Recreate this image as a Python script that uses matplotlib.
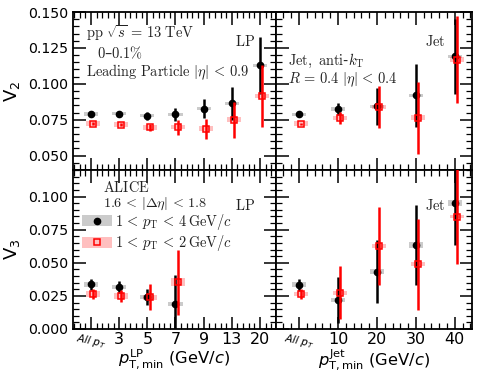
import matplotlib
matplotlib.use("Agg")
import matplotlib.pyplot as plt
from matplotlib.ticker import FixedLocator, MultipleLocator, FormatStrFormatter, NullFormatter
from matplotlib.patches import Rectangle

plt.rcParams['mathtext.fontset'] = 'cm'

# ---------------- data ----------------
lp_pos = [1, 2, 3, 4, 5, 6, 7]
lp_labels = ['All', '3', '5', '7', '9', '13', '20']
jet_pos = [0, 10, 20, 30, 40]
jet_labels = ['All', '10', '20', '30', '40']

v2_lp_b = [0.0789, 0.0792, 0.0778, 0.0787, 0.0827, 0.0864, 0.1129]
v2_lp_b_err = [0.0010, 0.0010, 0.0027, 0.0045, 0.0064, 0.0114, 0.0198]
v2_lp_b_sys = [0.0012, 0.0012, 0.0012, 0.0012, 0.0012, 0.0012, 0.0012]
v2_lp_r = [0.0722, 0.0715, 0.0696, 0.0698, 0.0687, 0.0750, 0.0915]
v2_lp_r_err = [0.0010, 0.0012, 0.0022, 0.0052, 0.0070, 0.0125, 0.0219]
v2_lp_r_sys = [0.0016, 0.0016, 0.0016, 0.0016, 0.0016, 0.0016, 0.0016]

v2_jet_b = [0.0787, 0.0824, 0.0843, 0.0920, 0.1192]
v2_jet_b_err = [0.0007, 0.0043, 0.0127, 0.0221, 0.0262]
v2_jet_b_sys = [0.0012, 0.0012, 0.0012, 0.0012, 0.0012]
v2_jet_r = [0.0722, 0.0761, 0.0838, 0.0764, 0.1169]
v2_jet_r_err = [0.0008, 0.0044, 0.0145, 0.0252, 0.0306]
v2_jet_r_sys = [0.0016, 0.0016, 0.0016, 0.0016, 0.0016]

v3_lp_pos = [1, 2, 3, 4]
v3_lp_b = [0.0338, 0.0317, 0.0244, 0.0189]
v3_lp_b_err = [0.0042, 0.0048, 0.0060, 0.0220]
v3_lp_b_sys = [0.0020, 0.0018, 0.0015, 0.0015]
v3_lp_r = [0.0265, 0.0249, 0.0240, 0.0353]
v3_lp_r_err = [0.0040, 0.0045, 0.0098, 0.0245]
v3_lp_r_sys = [0.0022, 0.0022, 0.0018, 0.0030]

v3_jet_b = [0.0333, 0.0219, 0.0433, 0.0635, 0.0950]
v3_jet_b_err = [0.0043, 0.0176, 0.0237, 0.0302, 0.0315]
v3_jet_b_sys = [0.0018, 0.0015, 0.0019, 0.0022, 0.0025]
v3_jet_r = [0.0265, 0.0275, 0.0627, 0.0489, 0.0849]
v3_jet_r_err = [0.0038, 0.0202, 0.0294, 0.0343, 0.0359]
v3_jet_r_sys = [0.0015, 0.0015, 0.0015, 0.0015, 0.0015]

# ---------------- figure ----------------
W, H = 478, 375
fig = plt.figure(figsize=(W / 100, H / 100), dpi=100)

def fr(x0, x1, ytop, ybot):
    return [x0 / W, 1 - ybot / H, (x1 - x0) / W, (ybot - ytop) / H]

ax_tl = fig.add_axes(fr(73, 276, 12, 170))
ax_tr = fig.add_axes(fr(276, 472, 12, 170))
ax_bl = fig.add_axes(fr(73, 276, 170, 329))
ax_br = fig.add_axes(fr(276, 472, 170, 329))

GRAY = (0.55, 0.55, 0.55, 0.45)
PINK = (1.0, 0.0, 0.0, 0.25)

def draw(ax, xs, yb, eb, sb, yr, er, sr, dx, bw):
    xr = [x + dx for x in xs]
    ax.bar(xs, [2 * s for s in sb], bottom=[y - s for y, s in zip(yb, sb)],
           width=bw, color=GRAY, edgecolor='none', zorder=1)
    ax.bar(xr, [2 * s for s in sr], bottom=[y - s for y, s in zip(yr, sr)],
           width=bw, color=PINK, edgecolor='none', zorder=1)
    ax.errorbar(xs, yb, yerr=eb, fmt='o', color='black', ms=4.5, elinewidth=1.8,
                capsize=0, zorder=3)
    ax.errorbar(xr, yr, yerr=er, fmt='s', color='red', mfc='none', mec='red',
                ms=4.5, mew=1.1, elinewidth=1.8, capsize=0, zorder=4)

draw(ax_tl, lp_pos, v2_lp_b, v2_lp_b_err, v2_lp_b_sys, v2_lp_r, v2_lp_r_err, v2_lp_r_sys, 0.08, 0.5)
draw(ax_tr, jet_pos, v2_jet_b, v2_jet_b_err, v2_jet_b_sys, v2_jet_r, v2_jet_r_err, v2_jet_r_sys, 0.55, 3.6)
draw(ax_bl, v3_lp_pos, v3_lp_b, v3_lp_b_err, v3_lp_b_sys, v3_lp_r, v3_lp_r_err, v3_lp_r_sys, 0.08, 0.5)
draw(ax_br, jet_pos, v3_jet_b, v3_jet_b_err, v3_jet_b_sys, v3_jet_r, v3_jet_r_err, v3_jet_r_sys, 0.55, 3.6)

for ax in (ax_tl, ax_bl):
    ax.set_xlim(0.36, 7.57)
    ax.xaxis.set_major_locator(FixedLocator(lp_pos))
    ax.xaxis.set_minor_locator(MultipleLocator(0.2))
for ax in (ax_tr, ax_br):
    ax.set_xlim(-5.9, 44.4)
    ax.xaxis.set_major_locator(FixedLocator(jet_pos))
    ax.xaxis.set_minor_locator(MultipleLocator(2))
for ax in (ax_tl, ax_tr):
    ax.set_ylim(0.04, 0.15)
    ax.yaxis.set_major_locator(FixedLocator([0.05, 0.075, 0.1, 0.125, 0.15]))
for ax in (ax_bl, ax_br):
    ax.set_ylim(0.0, 0.12)
    ax.yaxis.set_major_locator(FixedLocator([0.0, 0.025, 0.05, 0.075, 0.1]))

for ax in (ax_tl, ax_tr, ax_bl, ax_br):
    ax.yaxis.set_minor_locator(MultipleLocator(0.005))
    ax.yaxis.set_major_formatter(FormatStrFormatter('%.3f'))
    ax.tick_params(which='both', direction='in', top=True, right=True)
    ax.tick_params(which='major', length=9, width=1.1, labelsize=10.2)
    ax.tick_params(which='minor', length=4, width=0.9)
    for s in ax.spines.values():
        s.set_linewidth(1.3)

for ax in (ax_tl, ax_tr):
    ax.xaxis.set_major_formatter(NullFormatter())
for ax in (ax_tr, ax_br):
    ax.yaxis.set_major_formatter(NullFormatter())

ax_bl.set_xticklabels([''] + lp_labels[1:])
ax_br.set_xticklabels([''] + jet_labels[1:])
ax_bl.tick_params(axis='x', labelsize=11.5, pad=2.5)
ax_br.tick_params(axis='x', labelsize=11.5, pad=2.5)

# "All pT" rotated labels
for ax, x in ((ax_bl, lp_pos[0]), (ax_br, jet_pos[0])):
    ax.text(x, -0.012, r'$All\ p_T$', transform=ax.get_xaxis_transform(),
            fontsize=7.5, rotation=-12, ha='center', va='top',
            math_fontfamily='dejavusans')

ax_tl.set_ylabel(r'V$_2$', fontsize=13, math_fontfamily='dejavusans', labelpad=4)
ax_bl.set_ylabel(r'V$_3$', fontsize=13, math_fontfamily='dejavusans', labelpad=4)
ax_bl.set_xlabel(r'$p_{\mathrm{T,min}}^{\mathrm{LP}}$ (GeV/$c$)', fontsize=11.8,
                 math_fontfamily='dejavusans', labelpad=0)
ax_br.set_xlabel(r'$p_{\mathrm{T,min}}^{\mathrm{Jet}}$ (GeV/$c$)', fontsize=11.8,
                 math_fontfamily='dejavusans', labelpad=0)

# ---------------- annotations ----------------
TS = 10.4
def ftext(x, y, s, ha='left', size=TS):
    fig.text(x / W, 1 - y / H, s, ha=ha, va='center', fontsize=size, color='#222222')

ftext(86, 33, r'$\mathrm{pp}\ \sqrt{s}\,=\,13\ \mathrm{TeV}$')
ftext(97, 53, r'$0$–$0.1\%$')
ftext(86, 72, r'$\mathrm{Leading\ Particle}\ |\eta|\,<\,0.9$')
ftext(255, 42, r'$\mathrm{LP}$', ha='right')
ftext(288, 61, r'$\mathrm{Jet,\ anti}$-$k_{\mathrm{T}}$')
ftext(288, 80, r'$R\,=\,0.4\ |\eta|\,<\,0.4$')
ftext(446, 42, r'$\mathrm{Jet}$', ha='right')
ftext(255, 205, r'$\mathrm{LP}$', ha='right')
ftext(446, 205, r'$\mathrm{Jet}$', ha='right')
ftext(103, 188, r'$\mathrm{ALICE}$')
ftext(103, 203.5, r'$1.6\,<\,|\Delta\eta|\,<\,1.8$', size=10.2)
ftext(115, 221.5, r'$1\,<\,p_{\mathrm{T}}\,<\,4\,\mathrm{GeV}/c$')
ftext(115, 243, r'$1\,<\,p_{\mathrm{T}}\,<\,2\,\mathrm{GeV}/c$')

# legend boxes (figure pixel coords -> figure fraction)
fig.patches.append(Rectangle((82 / W, 1 - 226 / H), 30 / W, 11 / H, transform=fig.transFigure,
                             facecolor=GRAY, edgecolor='none', figure=fig))
fig.patches.append(Rectangle((82 / W, 1 - 248 / H), 30 / W, 11 / H, transform=fig.transFigure,
                             facecolor=PINK, edgecolor='none', figure=fig))
fig.lines.append(plt.Line2D([97 / W], [1 - 220.5 / H], marker='o', color='black', ms=4.5,
                            transform=fig.transFigure, figure=fig))
fig.lines.append(plt.Line2D([97 / W], [1 - 242.5 / H], marker='s', color='red', mfc='none',
                            ms=4.5, mew=1.1, transform=fig.transFigure, figure=fig))

fig.savefig('out.png', dpi=100)
